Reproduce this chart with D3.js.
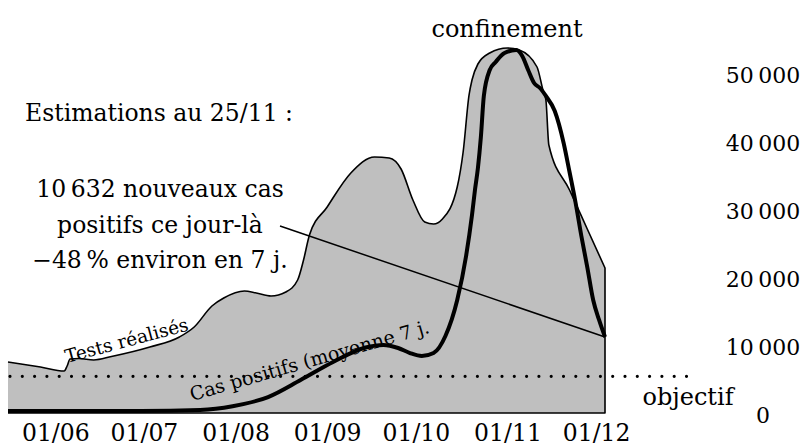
<!DOCTYPE html>
<html><head><meta charset="utf-8">
<script src="https://cdn.jsdelivr.net/npm/d3@7"></script>
<style>
html,body{margin:0;padding:0;background:#fff}
svg{display:block}
text{font-family:"DejaVu Serif",serif;fill:#000}
</style>
</head><body>
<svg id="c" width="801" height="447"></svg>
<script>
// ---- data ----
const casesDates = ["2020-05-16","2020-06-05","2020-06-30","2020-07-20","2020-07-31","2020-08-12","2020-08-23","2020-09-03","2020-09-14","2020-09-20","2020-09-25","2020-09-29","2020-10-03","2020-10-07","2020-10-11","2020-10-15","2020-10-18","2020-10-20","2020-10-21","2020-10-22","2020-10-23","2020-10-24","2020-10-26","2020-10-28","2020-10-31","2020-11-04","2020-11-06","2020-11-08","2020-11-10","2020-11-12","2020-11-14","2020-11-17","2020-11-20","2020-11-22","2020-11-24","2020-11-26","2020-11-28","2020-11-30","2020-12-02","2020-12-04"];
const casesValues = [300,300,300,450,1000,2350,4850,7500,9630,10000,9560,8820,8380,8820,11320,16620,23090,29120,32790,36030,40590,46620,50440,51620,52940,53380,52500,50440,48530,47790,46620,44410,39710,35440,31030,26030,21470,16620,13680,11180];

const testsDates = ["2020-05-16","2020-05-27","2020-06-04","2020-06-05","2020-06-06","2020-06-09","2020-06-14","2020-06-20","2020-07-03","2020-07-13","2020-07-18","2020-07-24","2020-07-28","2020-08-04","2020-08-08","2020-08-13","2020-08-18","2020-08-22","2020-08-24","2020-08-26","2020-09-01","2020-09-09","2020-09-17","2020-09-22","2020-09-26","2020-09-30","2020-10-04","2020-10-07","2020-10-10","2020-10-15","2020-10-17","2020-10-19","2020-10-20","2020-10-22","2020-10-26","2020-11-01","2020-11-05","2020-11-11","2020-11-13","2020-11-14","2020-11-15","2020-11-22","2020-11-28","2020-12-04"];
const testsValues = [37500,33820,30880,34560,39710,40070,38970,41540,48530,55880,63240,78680,84560,89710,88240,86030,88970,97790,112500,130880,151470,176470,188240,187500,179410,156620,140440,138970,142650,166180,191910,233820,244850,256620,264710,268380,266910,254410,237500,230150,197060,163970,135290,106620];

const xTickDates = ["2020-06-01","2020-07-01","2020-08-01","2020-09-01","2020-10-01","2020-11-01","2020-12-01"];
const yTickValues = [0,10000,20000,30000,40000,50000];
const objectif = 5400;

const annotationTitle = "Estimations au 25/11 :";
const annotationLines = ["10\u2009632 nouveaux cas","positifs ce jour-là","\u221248\u202F% environ en 7 j."];

// ---- setup ----
const parse = d3.utcParse("%Y-%m-%d");
const cases = casesDates.map((d,i)=>({date:parse(d), value:casesValues[i]}));
const tests = testsDates.map((d,i)=>({date:parse(d), value:testsValues[i]}));

const svg = d3.select("#c");
const x = d3.scaleUtc().domain([parse("2020-05-16"), parse("2020-12-04")]).range([8,605]);
const y = d3.scaleLinear().domain([0,50000]).range([413,73]);
const y2 = d3.scaleLinear().domain([0,250000]).range([413,73]);

const fmt = d3.formatLocale({decimal:",", thousands:"\u2009", grouping:[3], currency:["","€"]}).format(",d");

// tests area
const area = d3.area().x(d=>x(d.date)).y0(y2(0)).y1(d=>y2(d.value)).curve(d3.curveMonotoneX);
svg.append("path").datum(tests).attr("d",area).attr("fill","#bfbfbf");

const topLine = d3.line().x(d=>x(d.date)).y(d=>y2(d.value)).curve(d3.curveMonotoneX);
const first = tests[0], last = tests[tests.length-1];
svg.append("path")
  .attr("d", topLine(tests) + `L${x(last.date)},${y2(0)}L${x(first.date)},${y2(0)}`)
  .attr("fill","none").attr("stroke","#000").attr("stroke-width",1.6).attr("stroke-linejoin","round");

// objectif dotted line
svg.append("line")
  .attr("x1",10).attr("x2",690).attr("y1",y(objectif)).attr("y2",y(objectif))
  .attr("stroke","#000").attr("stroke-width",3.2).attr("stroke-linecap","round")
  .attr("stroke-dasharray","0,12.3");

// cases line
const caseLine = d3.line().x(d=>x(d.date)).y(d=>y(d.value)).curve(d3.curveMonotoneX);
svg.append("path").datum(cases).attr("d",caseLine)
  .attr("fill","none").attr("stroke","#000").attr("stroke-width",4).attr("stroke-linejoin","round");

// pointer
const lc = cases[cases.length-1];
svg.append("line").attr("x1",280).attr("y1",226).attr("x2",x(lc.date)).attr("y2",y(lc.value))
  .attr("stroke","#000").attr("stroke-width",1.5);

// y axis (right)
const yAxis = svg.append("g").attr("transform","translate(763,0)")
  .call(d3.axisRight(y).tickValues(yTickValues).tickFormat(fmt).tickSize(0).tickPadding(0));
yAxis.select(".domain").remove();
yAxis.selectAll("text").attr("text-anchor","middle").attr("x",0).attr("dy","0.45em")
  .style("font-family","DejaVu Serif").style("font-size","22px");

// x axis
const xAxis = svg.append("g").attr("transform",`translate(0,${y(0)})`)
  .call(d3.axisBottom(x).tickValues(xTickDates.map(parse)).tickFormat(d3.utcFormat("%d/%m")).tickSize(0));
xAxis.select(".domain").remove();
xAxis.selectAll("text").attr("y",27.5).attr("dy",0)
  .style("font-family","DejaVu Serif").style("font-size","23.5px");

// texts
const T = (s, px, py, size, anchor="middle") => svg.append("text").attr("x",px).attr("y",py)
  .attr("text-anchor",anchor).style("font-size",size+"px").text(s);

T("confinement", 507, 37, 24);
T(annotationTitle, 159, 121, 23.5);
annotationLines.forEach((s,i)=>T(s, 160, 197 + i*35.5, 23.5));
T("objectif", 688, 405, 24);

svg.append("text").attr("transform","translate(67,363) rotate(-15)")
  .style("font-size","18.5px").text("Tests réalisés");
svg.append("text").attr("transform","translate(192,401) rotate(-16)")
  .style("font-size","19px").text("Cas positifs (moyenne 7 j.");
</script>
</body></html>
